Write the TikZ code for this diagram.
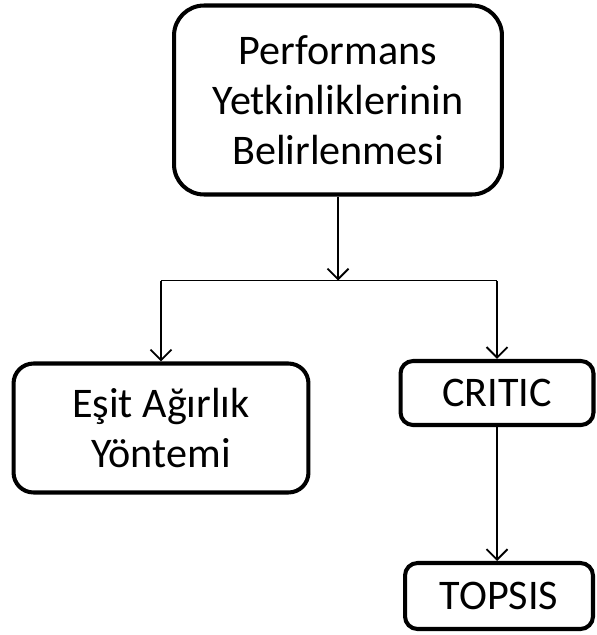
\documentclass[tikz,border=0pt]{standalone}
\usepackage{fontspec}
\setmainfont{Carlito}
\usetikzlibrary{arrows.meta, calc}
\tikzset{
    my-box/.style={
        draw, line width=2.3pt, inner sep=0pt, align=center,
        font=\fontsize{24}{28.5}\selectfont
    },
    my-wire/.style={
        line width=1.1pt
    },
    my-arrow/.style={
        my-wire, -{Straight Barb[length=6pt, width=12pt, line width=1.1pt]}
    },
}
\begin{document}
\begin{tikzpicture}[x=0.02cm, y=-0.02cm]

        \useasboundingbox (0, 0) rectangle (597, 635);

        % BOXES ---------------------------------------------------------------------------------------
        \node[my-box, rounded corners=0.6cm, minimum width=6.56cm, minimum height=3.78cm]
            (PERF) at (338, 100) {Performans\\Yetkinliklerinin\\Belirlenmesi};
        \node[my-box, rounded corners=0.4cm, minimum width=5.9cm, minimum height=2.58cm]
            (EAW) at (161, 428) {Eşit Ağırlık\\Yöntemi};
        \node[my-box, rounded corners=0.25cm, minimum width=3.86cm, minimum height=1.28cm]
            (CRITIC) at (497, 393) {CRITIC};
        \node[my-box, rounded corners=0.25cm, minimum width=3.76cm, minimum height=1.32cm]
            (TOPSIS) at (499, 596) {TOPSIS};

        % SPLIT POINTS
        \coordinate (SPLIT)  at ($(PERF.south) + (0, 84)$);
        \coordinate (SPLITL) at (EAW |- SPLIT);
        \coordinate (SPLITR) at (CRITIC |- SPLIT);

        % WIRES ---------------------------------------------------------------------------------------
        \draw[my-arrow] (PERF.south) -- (SPLIT);
        \draw[my-wire]  (SPLITL) -- (SPLITR);
        \draw[my-arrow] (SPLITL) -- (EAW.north);
        \draw[my-arrow] (SPLITR) -- (CRITIC.north);
        \draw[my-arrow] (CRITIC.south) -- (CRITIC.south |- TOPSIS.north);

    \end{tikzpicture}
\end{document}
